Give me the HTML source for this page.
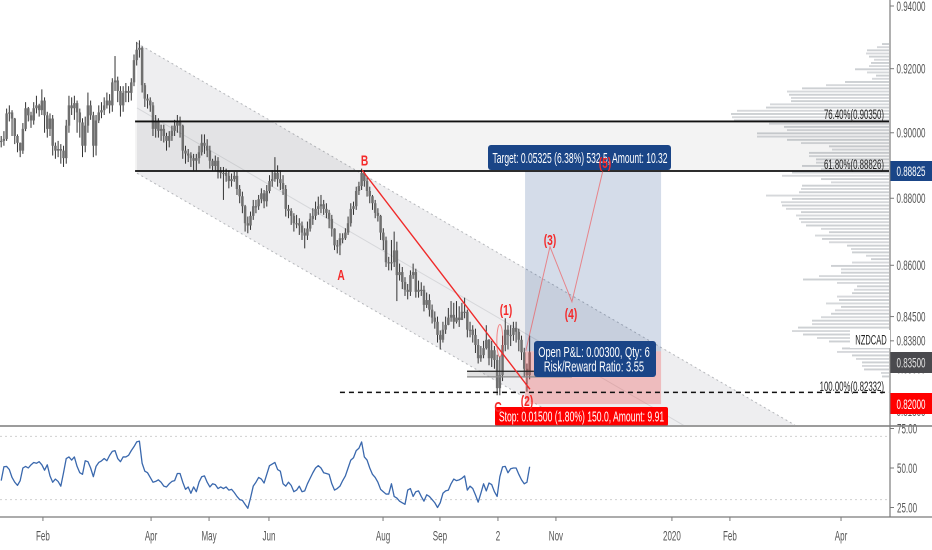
<!DOCTYPE html>
<html lang="en">
<head>
<meta charset="utf-8">
<title>NZDCAD chart</title>
<style>
  html,body{margin:0;padding:0;background:#fff;}
  #chart-root{position:relative;width:932px;height:550px;overflow:hidden;background:#fff;}
  svg{display:block;font-family:"Liberation Sans",sans-serif;filter:blur(0.35px);}
</style>
</head>
<body>
<div id="chart-root">
<svg id="chart" width="932" height="550" viewBox="0 0 932 550">
  <defs>
    <clipPath id="price-clip"><rect x="0" y="0" width="889" height="425"/></clipPath>
  </defs>
  <g id="layer-volume" clip-path="url(#price-clip)"></g>
  <g id="layer-channel" clip-path="url(#price-clip)"></g>
  <g id="layer-candles" clip-path="url(#price-clip)"></g>
  <g id="layer-draw" clip-path="url(#price-clip)"></g>

  <g>
    <rect x="488" y="145" width="183" height="25" rx="3" fill="#1a4587"/>
    <text transform="translate(580,163) scale(.57,1)" text-anchor="middle" font-size="15" fill="#fff">Target: 0.05325 (6.38%) 532.5, Amount: 10.32</text>
    <rect x="534" y="341" width="122" height="36" rx="3" fill="#1a4587"/>
    <text transform="translate(594,357) scale(.62,1)" text-anchor="middle" font-size="15" fill="#fff">Open P&amp;L: 0.00300, Qty: 6</text>
    <text transform="translate(594,371.5) scale(.62,1)" text-anchor="middle" font-size="15" fill="#fff">Risk/Reward Ratio: 3.55</text>
    <rect x="495" y="407" width="173" height="19" rx="2" fill="#ff0000"/>
    <text transform="translate(581.5,421.5) scale(.573,1)" text-anchor="middle" font-size="15" fill="#fff">Stop: 0.01500 (1.80%) 150.0, Amount: 9.91</text>

    <g font-size="15" font-weight="bold" fill="#f42a2a" text-anchor="middle">
      <text transform="translate(364.5,165.5) scale(.68,1)">B</text>
      <text transform="translate(341,280) scale(.68,1)">A</text>
      <text transform="translate(498,412) scale(.68,1)">C</text>
      <text transform="translate(506,315) scale(.68,1)">(1)</text>
      <text transform="translate(527,406) scale(.68,1)">(2)</text>
      <text transform="translate(550,245) scale(.68,1)">(3)</text>
      <text transform="translate(571,319) scale(.68,1)">(4)</text>
      <text transform="translate(605,168) scale(.68,1)">(5)</text>
    </g>

    <g font-size="14" fill="#222" text-anchor="end">
      <text transform="translate(884,119) scale(.56,1)">76.40%(0.90350)</text>
      <text transform="translate(884,169) scale(.56,1)">61.80%(0.88826)</text>
      <text transform="translate(884,391) scale(.56,1)">100.00%(0.82332)</text>
    </g>
  </g>

  <g id="layer-rsi"></g>

  <rect x="890" y="0" width="42" height="517" fill="#fff"/>
  <g id="layer-axes"></g>

  <line x1="0" y1="426" x2="932" y2="426" stroke="#7b7b7b" stroke-width="1.5"/>
  <line x1="0" y1="517" x2="932" y2="517" stroke="#7b7b7b" stroke-width="1.2"/>
  <line x1="890" y1="0" x2="890" y2="517" stroke="#7b7b7b" stroke-width="1.2"/>

  <g>
    <rect x="850" y="330" width="40" height="18" fill="#fff"/>
    <text transform="translate(871,344.5) scale(.54,1)" text-anchor="middle" font-size="14" fill="#222">NZDCAD</text>
    <rect x="890.5" y="161" width="41.5" height="20" fill="#1a4587"/>
    <text transform="translate(911,176) scale(.595,1)" text-anchor="middle" font-size="13.5" fill="#fff">0.88825</text>
    <rect x="890.5" y="352" width="41.5" height="21" fill="#4a4a4e"/>
    <text transform="translate(911,367.5) scale(.595,1)" text-anchor="middle" font-size="13.5" fill="#e4e4e4">0.83500</text>
    <rect x="890.5" y="393" width="41.5" height="21" fill="#ff0000"/>
    <text transform="translate(911,409) scale(.595,1)" text-anchor="middle" font-size="13.5" fill="#fff">0.82000</text>
  </g>
</svg>
</div>

<script>
// ---- price series ----
const closes = [
.8975,.8981,.906,.9063,.9044,.899,.8969,.8945,.9012,.9076,
.9054,.9038,.9076,.9085,.907,.91,.9054,.9012,.9044,.896,
.8945,.895,.8945,.8922,.9022,.9085,.9076,.9092,.9063,.9032,
.896,.9022,.9085,.9054,.896,.9038,.9063,.907,.9085,.91,
.9085,.9157,.9163,.913,.9085,.9124,.913,.9124,.9157,.9227,
.926,.9266,.9148,.9106,.91,.9085,.9012,.9038,.9006,.9012,
.899,.8975,.899,.9006,.9022,.9032,.9022,.8945,.8936,.893,
.8922,.8914,.8922,.894,.8969,.896,.8945,.8914,.8898,.8914,
.8883,.8877,.8877,.8868,.8852,.8858,.8868,.8828,.8806,.8776,
.8725,.8718,.8747,.8776,.8776,.8797,.8815,.8791,.8822,.8852,
.8858,.8877,.8858,.8846,.8828,.8768,.8762,.8747,.8725,.8725,
.8718,.8697,.8688,.8709,.8738,.8747,.8768,.8776,.8782,.8768,
.8756,.8738,.8709,.8659,.8659,.868,.868,.8697,.8725,.8768,
.8776,.8822,.8837,.8877,.8852,.8822,.8806,.8785,.8756,.8747,
.8697,.8674,.8609,.8609,.8609,.8644,.8571,.858,.8551,.8528,
.8522,.8571,.858,.8522,.8528,.8528,.8484,.8498,.847,.8447,
.8435,.8397,.8383,.8412,.8426,.8447,.8455,.8435,.8447,.844,
.8464,.8464,.8412,.8412,.8397,.8368,.833,.8339,.8359,.8383,
.833,.8353,.8325,.8245,.8282,.8368,.8412,.8397,.8397,.8417,
.8406,.8383,.8347,.83,.8282,.8347];
const highs = [
.899,.9005,.9075,.9085,.907,.9046,.8995,.897,.903,.9095,
.908,.9065,.9095,.9115,.909,.9135,.911,.9065,.906,.9055,
.897,.8975,.8965,.896,.904,.9115,.911,.9115,.91,.9075,
.9045,.905,.9125,.91,.9065,.9055,.9085,.9095,.911,.9125,
.912,.917,.924,.9175,.9145,.9145,.9155,.9145,.917,.9245,
.9285,.929,.927,.9155,.912,.911,.9095,.9055,.9045,.9025,
.9025,.9,.9005,.9022,.904,.9055,.905,.9025,.896,.895,
.894,.8935,.8935,.896,.8995,.8995,.898,.896,.892,.893,
.8925,.8895,.8895,.889,.8885,.8875,.888,.888,.884,.882,
.878,.8745,.876,.8795,.8795,.881,.883,.8825,.884,.887,
.8885,.8925,.89,.8885,.887,.884,.878,.877,.8755,.875,
.874,.873,.871,.873,.8755,.877,.879,.8805,.881,.8795,
.8785,.8765,.875,.871,.8675,.8695,.8695,.871,.8745,.8785,
.879,.8835,.885,.889,.8885,.8865,.8835,.881,.8795,.877,
.875,.871,.8685,.8625,.8675,.87,.867,.8605,.8595,.8565,
.8545,.8585,.8605,.859,.8555,.855,.854,.852,.8515,.8485,
.8465,.845,.841,.8435,.845,.8475,.8495,.849,.8495,.848,
.849,.8505,.847,.8435,.8425,.8415,.8385,.8365,.838,.8425,
.8385,.838,.8365,.834,.8335,.8395,.8445,.8425,.8425,.8435,
.8435,.8415,.8395,.836,.8315,.8395];
const lows = [
.8955,.896,.8975,.9035,.899,.8965,.894,.8925,.8935,.9005,
.9035,.9015,.9025,.906,.905,.9055,.9,.8985,.899,.893,
.892,.8925,.8905,.8895,.8905,.9,.9055,.904,.9,.8985,
.8925,.894,.9,.904,.8925,.893,.903,.9045,.9055,.9075,
.906,.9065,.913,.9095,.905,.9065,.9095,.9095,.91,.9145,
.921,.9235,.9125,.908,.9075,.9065,.899,.8985,.8985,.8975,
.897,.8945,.8955,.8975,.899,.9,.8985,.892,.8905,.891,
.8895,.8885,.8885,.8905,.893,.8935,.8925,.889,.8885,.8885,
.886,.886,.8795,.885,.883,.8835,.885,.881,.8785,.8755,
.87,.8695,.8705,.8735,.8755,.8765,.8785,.877,.8775,.8815,
.8835,.885,.8835,.8825,.881,.8745,.874,.872,.87,.871,
.869,.8675,.865,.8675,.87,.872,.8735,.875,.8755,.875,
.874,.871,.8685,.8645,.8635,.863,.8665,.8675,.869,.8715,
.875,.8765,.881,.8825,.8835,.8805,.8785,.8765,.874,.873,
.8675,.8645,.8595,.8585,.8585,.8595,.8495,.8555,.853,.851,
.85,.851,.856,.8505,.8505,.851,.8465,.8475,.845,.843,
.8415,.8375,.8355,.8375,.84,.8425,.8435,.8415,.843,.842,
.844,.8445,.839,.839,.8375,.8345,.8315,.832,.833,.8355,
.831,.8305,.83,.8225,.8225,.8265,.835,.8355,.8365,.838,
.8375,.835,.8325,.8275,.8235,.827];

// ---- RSI series ----
const rsiValues = [
42,50.8,51,49,44,41,39,42,50,51,
50,52,53.5,53,54,52,48.6,52,45,41,
43,41.5,38.5,47,56,57,55,57,51,47,
46,54.6,54,50,44.5,51,53.5,54.5,56,54.6,
58,60.5,61,56,54,57,57,58,61,63.5,
66.5,67,53,48,47,44,41,41.5,42.5,41,
38.5,38,40,41.5,42,46.5,46.5,41,36.5,38,
34,38,35,41,44.5,45,41,38,40,39.5,
37,38,37,38,36,36.5,34.5,32,30,29.5,
27,24.5,31,38.5,41,44,43,40.5,46,51.5,
52.5,53.5,49,48,40,38.5,41,39,35,36,
38.5,35,35.5,40,43.5,47,50,51.5,50,47,
46.5,46,40,36,37,38.5,42,45,50,55,
56.5,61,62.5,66.5,57,55,50,46,44,41,
36.5,35,33.5,33.5,40,32,31,29,28,27,
36,37,32,35,35.5,32,29,33,32,30,
28,25,28,34,35.5,36,40,43,42,42.5,
43.5,45,36,38.5,37,33,28.4,34,40,35.5,
40.5,39.5,35,32,44.5,50.7,51,47,49.5,50,
50,46,42.5,40,41,50.8];

// ---- volume profile: one row per price step, top row first ----
const volumeTopPrice = 0.9278;
const volumeStep = 0.001;
const volumeRows = [
7,12,22,23,20,15,18,20,34,22,13,17,44,63,87,102,100,98,98,119,
123,152,158,157,155,120,105,102,132,132,102,88,60,57,80,80,73,73,87,68,
97,107,68,58,87,88,90,123,97,108,107,103,88,93,90,88,83,68,60,74,
67,60,42,38,37,23,18,37,58,48,48,70,86,52,32,35,37,52,50,63,
48,54,58,68,77,77,91,97,86,72,60,0,47,52,37,33,27,27,25,8,7];

// ---- axis data ----
const priceTicks = [0.94,0.92,0.90,0.88,0.86,0.845,0.838,0.83,0.818];
const rsiTicks = [75,50,25];
const rsiGuides = [70,30];
const timeLabels = ['Feb','Apr','May','Jun','Aug','Sep','2','Nov','2020','Feb','Apr'];
const timeBars = [15.4,55.3,76.7,98.8,140.9,161.9,183.3,204.7,247.5,268.9,309.9];

// ---- drawing data, in bar / price units ----
const channelBars = [50.1,292.9];
const channelTop = [0.9281,0.8141];
const channelMid = [0.9077,0.7962];
const channelLow = [0.8876,0.7790];
const fibPrices = [0.9035,0.88826];
const fibStartBar = 49.4;
const fibBasePrice = 0.82332;
const fibBaseStartBar = 125;
const positionBars = [193.3,243.5];
const positionTarget = 0.88825;
const positionEntry = 0.835;
const positionStop = 0.82;
const trendBars = [133.2,195.1];
const trendPrices = [0.8885,0.8242];
const waveBars = [193.6,202.5,210.6,222];
const wavePrices = [0.8352,0.8655,0.8493,0.8883];
const supportBars = [171.9,210.6];
const supportPrices = [0.8293,0.8277];
const ellipseBar = 184;
const ellipsePrices = [0.8427,0.8334];

// ---- scales ----
const PLOT_RIGHT = 889;
function xB(bar){ return 1.2 + bar * 2.71; }
function yP(price){ return 6 + 2915 * Math.log(0.94 / price); }
function yR(value){ return 468 - (value - 50) * 1.58; }

const NS = 'http://www.w3.org/2000/svg';
function mk(parent, tag, attrs, name){
  const el = document.createElementNS(NS, tag);
  for (const k in attrs) el.setAttribute(k, attrs[k]);
  
  
  parent.appendChild(el);
  return el;
}
function label(parent, x, y, str, anchor, name){
  const t = mk(parent, 'text', {transform:'translate(' + x + ',' + y + ') scale(.595,1)', 'text-anchor':anchor, 'font-size':13.5, fill:'#555'}, name);
  t.textContent = str;
}

// volume profile
const gVol = document.getElementById('layer-volume');
volumeRows.forEach(function(w, i){
  const y = yP(volumeTopPrice - i * volumeStep);
  mk(gVol, 'rect', {x:PLOT_RIGHT - w, y:y - 1, width:w, height:1.9, fill:i % 2 ? '#d6d8db' : '#cdd0d3'}, 'volume-row');
});

// channel and fib band
const gCh = document.getElementById('layer-channel');
const poly = [[channelBars[0],channelTop[0]],[channelBars[1],channelTop[1]],[channelBars[1],channelLow[1]],[channelBars[0],channelLow[0]]]
  .map(function(p){ return xB(p[0]) + ',' + yP(p[1]); }).join(' ');
mk(gCh, 'polygon', {points:poly, fill:'rgba(120,123,134,.125)'}, 'channel-fill');
[[channelTop,'channel-top-line'],[channelLow,'channel-bottom-line']].forEach(function(c){
  mk(gCh, 'line', {x1:xB(channelBars[0]), y1:yP(c[0][0]), x2:xB(channelBars[1]), y2:yP(c[0][1]), stroke:'#b5b7bb', 'stroke-width':1, 'stroke-dasharray':'2 3'}, c[1]);
});
mk(gCh, 'line', {x1:xB(channelBars[0]), y1:yP(channelMid[0]), x2:xB(channelBars[1]), y2:yP(channelMid[1]), stroke:'#d6d7da', 'stroke-width':1}, 'channel-mid-line');
mk(gCh, 'rect', {x:xB(fibStartBar), y:yP(fibPrices[0]), width:PLOT_RIGHT - xB(fibStartBar), height:yP(fibPrices[1]) - yP(fibPrices[0]), fill:'rgba(120,120,120,.09)'}, 'fib-band');

// candles
const gC = document.getElementById('layer-candles');
closes.forEach(function(c, i){
  const o = i ? closes[i - 1] : c;
  const x = xB(i);
  mk(gC, 'line', {x1:x, x2:x, y1:yP(highs[i]), y2:yP(lows[i]), stroke:'#333', 'stroke-width':1}, 'candle-wick');
  const top = yP(Math.max(o, c));
  const h = Math.max(1.2, yP(Math.min(o, c)) - top);
  mk(gC, 'rect', {x:x - 1.25, y:top, width:2.5, height:h, fill:'#6f6f6f'}, 'candle-body');
});

// position tool, lines, waves
const gD = document.getElementById('layer-draw');
const pL = xB(positionBars[0]);
const pW = xB(positionBars[1]) - pL;
mk(gD, 'rect', {x:pL, y:yP(positionTarget), width:pW, height:yP(positionEntry) - yP(positionTarget), fill:'rgba(38,80,145,.2)'}, 'profit-zone');
mk(gD, 'rect', {x:pL, y:yP(positionEntry), width:pW, height:yP(positionStop) - yP(positionEntry), fill:'rgba(240,60,60,.28)'}, 'stop-zone');

fibPrices.forEach(function(p){
  mk(gD, 'line', {x1:xB(fibStartBar), x2:PLOT_RIGHT, y1:yP(p), y2:yP(p), stroke:'#111', 'stroke-width':1.8}, 'fib-level-line');
});
mk(gD, 'line', {x1:xB(fibBaseStartBar), x2:PLOT_RIGHT, y1:yP(fibBasePrice), y2:yP(fibBasePrice), stroke:'#111', 'stroke-width':1.5, 'stroke-dasharray':'5 4'}, 'fib-base-line');

mk(gD, 'rect', {x:xB(supportBars[0]), y:yP(supportPrices[0]), width:xB(supportBars[1]) - xB(supportBars[0]), height:yP(supportPrices[1]) - yP(supportPrices[0]), fill:'rgba(140,140,140,.25)'}, 'support-zone');
mk(gD, 'line', {x1:xB(supportBars[0]), x2:xB(supportBars[1]) - 38, y1:yP(supportPrices[0]), y2:yP(supportPrices[0]), stroke:'#222', 'stroke-width':1.3}, 'support-top-line');
mk(gD, 'line', {x1:xB(supportBars[0]), x2:xB(supportBars[1]), y1:yP(supportPrices[1]), y2:yP(supportPrices[1]), stroke:'#8a8a8a', 'stroke-width':1.2}, 'support-bottom-line');

mk(gD, 'line', {x1:xB(trendBars[0]), y1:yP(trendPrices[0]), x2:xB(trendBars[1]), y2:yP(trendPrices[1]), stroke:'#f02a2a', 'stroke-width':1.4}, 'abc-trend-line');
mk(gD, 'polyline', {points:waveBars.map(function(b, i){ return xB(b) + ',' + yP(wavePrices[i]); }).join(' '), fill:'none', stroke:'rgba(245,60,60,.55)', 'stroke-width':1}, 'elliott-wave-path');
const ey1 = yP(ellipsePrices[0]);
const ey2 = yP(ellipsePrices[1]);
mk(gD, 'ellipse', {cx:xB(ellipseBar), cy:(ey1 + ey2) / 2, rx:3, ry:(ey2 - ey1) / 2, fill:'none', stroke:'rgba(245,60,60,.6)', 'stroke-width':1}, 'wave-1-ellipse');

// RSI pane
const gR = document.getElementById('layer-rsi');
rsiGuides.forEach(function(v){
  mk(gR, 'line', {x1:0, x2:PLOT_RIGHT, y1:yR(v), y2:yR(v), stroke:'#d0d0d0', 'stroke-width':1, 'stroke-dasharray':'2 3'}, 'rsi-guide-line');
});
mk(gR, 'polyline', {points:rsiValues.map(function(v, i){ return xB(i) + ',' + yR(v); }).join(' '), fill:'none', stroke:'#3a68ad', 'stroke-width':1.3, 'stroke-linejoin':'round'}, 'rsi-line');

// axes
const gA = document.getElementById('layer-axes');
priceTicks.forEach(function(p){
  const y = yP(p);
  mk(gA, 'line', {x1:890, x2:894, y1:y, y2:y, stroke:'#7b7b7b', 'stroke-width':1}, 'price-tick');
  label(gA, 896.5, y + 4.8, p.toFixed(5), 'start', 'price-tick-label');
});
rsiTicks.forEach(function(v){
  const y = yR(v);
  mk(gA, 'line', {x1:890, x2:894, y1:y, y2:y, stroke:'#7b7b7b', 'stroke-width':1}, 'rsi-tick');
  label(gA, 897, y + 4.8, v.toFixed(2), 'start', 'rsi-tick-label');
});
timeLabels.forEach(function(t, i){
  const x = xB(timeBars[i]);
  mk(gA, 'line', {x1:x, x2:x, y1:517, y2:521, stroke:'#7b7b7b', 'stroke-width':1}, 'time-tick');
  label(gA, x, 540.5, t, 'middle', 'time-tick-label');
});
</script>
</body>
</html>
